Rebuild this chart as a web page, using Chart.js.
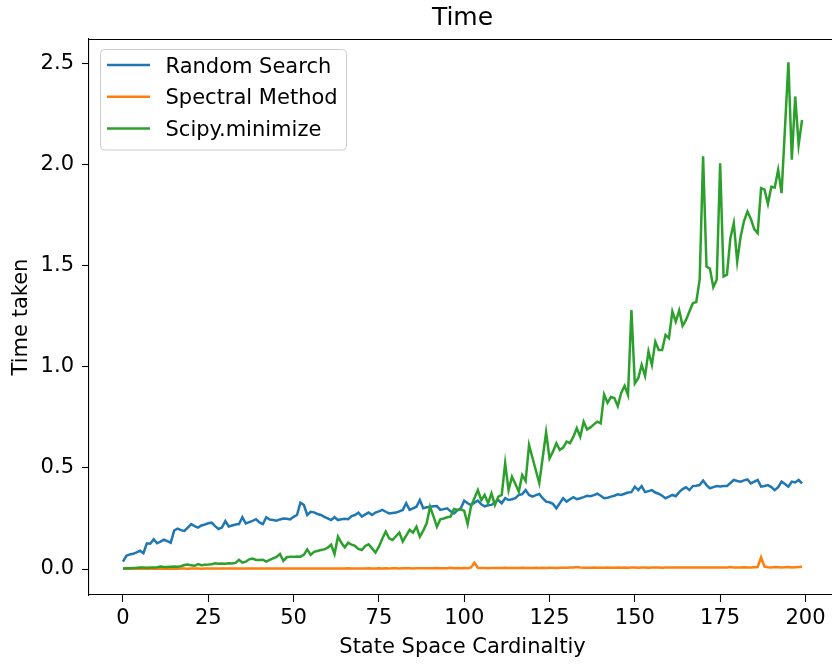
<!DOCTYPE html>
<html>
<head>
<meta charset="utf-8">
<title>Time</title>
<script src="https://cdn.jsdelivr.net/npm/chart.js@4/dist/chart.umd.min.js"></script>
<style>
  html, body { margin: 0; padding: 0; overflow: hidden; background: #ffffff; }
  #wrap { width: 840px; height: 664px; position: relative; }
</style>
</head>
<body>
<div id="wrap"><canvas id="chart"></canvas></div>
<script>
// State space sizes 0..199 (one run per size)
const sizes = Array.from({ length: 200 }, (_, i) => i);

const randomSearch = [
  0.036,0.065,0.072,0.075,0.082,0.090,0.078,0.127,0.125,0.147,
  0.127,0.135,0.145,0.138,0.130,0.190,0.200,0.192,0.188,0.205,
  0.222,0.212,0.205,0.215,0.220,0.226,0.229,0.212,0.198,0.205,
  0.237,0.210,0.215,0.220,0.222,0.256,0.225,0.232,0.238,0.246,
  0.230,0.222,0.256,0.245,0.242,0.239,0.245,0.250,0.248,0.245,
  0.258,0.267,0.328,0.317,0.267,0.283,0.280,0.272,0.267,0.258,
  0.250,0.242,0.256,0.242,0.246,0.248,0.246,0.262,0.267,0.279,
  0.259,0.270,0.279,0.267,0.279,0.285,0.292,0.283,0.275,0.277,
  0.279,0.285,0.292,0.325,0.292,0.300,0.308,0.341,0.300,0.305,
  0.308,0.310,0.311,0.292,0.296,0.300,0.285,0.275,0.290,0.300,
  0.338,0.325,0.316,0.328,0.338,0.320,0.310,0.315,0.317,0.330,
  0.341,0.325,0.350,0.341,0.345,0.350,0.366,0.370,0.390,0.366,
  0.358,0.365,0.371,0.350,0.333,0.330,0.322,0.300,0.325,0.350,
  0.333,0.345,0.355,0.345,0.350,0.355,0.362,0.360,0.365,0.372,
  0.362,0.350,0.352,0.358,0.362,0.369,0.366,0.372,0.378,0.380,
  0.407,0.390,0.410,0.380,0.385,0.390,0.378,0.372,0.362,0.350,
  0.358,0.366,0.360,0.380,0.395,0.404,0.390,0.410,0.412,0.415,
  0.437,0.415,0.399,0.405,0.410,0.408,0.410,0.410,0.425,0.440,
  0.435,0.432,0.438,0.443,0.423,0.432,0.440,0.407,0.410,0.415,
  0.405,0.390,0.405,0.432,0.420,0.407,0.432,0.428,0.440,0.423
];

const spectralMethod = [
  0.001,0.001,0.001,0.001,0.001,0.001,0.001,0.001,0.001,0.001,
  0.001,0.001,0.001,0.001,0.002,0.001,0.001,0.002,0.002,0.001,
  0.002,0.002,0.002,0.001,0.002,0.002,0.002,0.002,0.002,0.002,
  0.002,0.002,0.003,0.002,0.002,0.002,0.002,0.002,0.003,0.002,
  0.002,0.002,0.003,0.002,0.002,0.003,0.002,0.003,0.002,0.003,
  0.002,0.003,0.003,0.003,0.003,0.002,0.003,0.003,0.003,0.002,
  0.003,0.003,0.003,0.003,0.003,0.003,0.004,0.003,0.003,0.003,
  0.003,0.003,0.004,0.003,0.003,0.004,0.003,0.004,0.003,0.004,
  0.004,0.003,0.004,0.004,0.004,0.003,0.004,0.004,0.004,0.004,
  0.004,0.004,0.005,0.004,0.004,0.004,0.006,0.004,0.005,0.004,
  0.005,0.004,0.008,0.031,0.006,0.005,0.005,0.004,0.005,0.005,
  0.005,0.005,0.006,0.005,0.005,0.005,0.005,0.006,0.005,0.005,
  0.005,0.006,0.005,0.006,0.005,0.006,0.006,0.005,0.006,0.006,
  0.006,0.007,0.008,0.010,0.007,0.006,0.006,0.006,0.007,0.006,
  0.006,0.006,0.007,0.006,0.006,0.007,0.006,0.007,0.006,0.007,
  0.007,0.006,0.007,0.007,0.006,0.007,0.007,0.007,0.006,0.007,
  0.007,0.007,0.008,0.007,0.007,0.007,0.008,0.007,0.007,0.008,
  0.007,0.008,0.007,0.008,0.008,0.007,0.008,0.008,0.010,0.008,
  0.008,0.008,0.009,0.008,0.008,0.009,0.010,0.058,0.012,0.009,
  0.008,0.010,0.009,0.008,0.009,0.010,0.008,0.009,0.010,0.011
];

const scipyMinimize = [
  0.003,0.004,0.004,0.005,0.006,0.008,0.007,0.006,0.008,0.007,
  0.009,0.012,0.010,0.010,0.011,0.012,0.011,0.014,0.020,0.022,
  0.018,0.016,0.024,0.019,0.021,0.022,0.024,0.028,0.026,0.027,
  0.026,0.028,0.027,0.030,0.045,0.031,0.036,0.048,0.052,0.045,
  0.044,0.046,0.037,0.045,0.053,0.060,0.074,0.040,0.058,0.061,
  0.060,0.062,0.061,0.070,0.097,0.070,0.085,0.089,0.094,0.097,
  0.105,0.120,0.074,0.160,0.130,0.107,0.130,0.120,0.114,0.099,
  0.094,0.114,0.122,0.102,0.081,0.110,0.150,0.185,0.152,0.144,
  0.162,0.180,0.136,0.165,0.193,0.180,0.209,0.160,0.190,0.226,
  0.308,0.260,0.209,0.246,0.250,0.256,0.259,0.297,0.292,0.295,
  0.287,0.222,0.310,0.350,0.390,0.340,0.366,0.325,0.374,0.317,
  0.358,0.366,0.523,0.390,0.456,0.420,0.382,0.465,0.435,0.613,
  0.550,0.487,0.424,0.550,0.676,0.547,0.580,0.622,0.589,0.600,
  0.630,0.622,0.654,0.696,0.654,0.728,0.690,0.700,0.715,0.728,
  0.720,0.862,0.822,0.850,0.845,0.805,0.870,0.905,0.860,1.280,
  0.918,0.943,1.009,0.955,1.075,1.009,1.124,1.083,1.083,1.157,
  1.141,1.273,1.223,1.278,1.202,1.231,1.273,1.314,1.320,1.430,
  2.040,1.495,1.485,1.393,1.430,2.006,1.446,1.455,1.635,1.710,
  1.520,1.643,1.720,1.767,1.730,1.680,1.660,1.883,1.875,1.805,
  1.890,1.886,1.973,1.858,2.180,2.505,2.023,2.336,2.097,2.220
];

const seriesNames = ['Random Search', 'Spectral Method', 'Scipy.minimize'];
const seriesColors = ['#1f77b4', '#ff7f0e', '#2ca02c'];
const xTicks = [0, 25, 50, 75, 100, 125, 150, 175, 200];
const yTicks = [0.0, 0.5, 1.0, 1.5, 2.0, 2.5];
const titleText = 'Time';
const xLabel = 'State Space Cardinaltiy';
const yLabel = 'Time taken';

const FONT = '"DejaVu Sans", "Liberation Sans", sans-serif';
const TEXT_SIZE = 21;
Chart.defaults.font.family = FONT;
Chart.defaults.color = '#000000';

const toPoints = ys => sizes.map((x, i) => ({ x: x, y: ys[i] }));
const allSeries = [randomSearch, spectralMethod, scipyMinimize];

// Title, axis labels, remaining spines and the boxed legend
const figureDecor = {
  id: 'figureDecor',
  afterDraw(chart) {
    const { ctx, chartArea: a } = chart;
    ctx.save();

    ctx.strokeStyle = '#000000';
    ctx.lineWidth = 1.1;
    ctx.beginPath();
    ctx.moveTo(a.left, a.top + 0.5);
    ctx.lineTo(a.right, a.top + 0.5);
    ctx.lineTo(a.right, a.bottom);
    ctx.stroke();

    ctx.fillStyle = '#000000';
    ctx.textAlign = 'center';
    ctx.textBaseline = 'alphabetic';
    ctx.font = '25px ' + FONT;
    ctx.fillText(titleText, (a.left + a.right) / 2, 25);

    ctx.font = TEXT_SIZE + 'px ' + FONT;
    ctx.fillText(xLabel, (a.left + a.right) / 2, 653);

    ctx.save();
    ctx.translate(27, (a.top + a.bottom) / 2);
    ctx.rotate(-Math.PI / 2);
    ctx.fillText(yLabel, 0, 0);
    ctx.restore();

    // legend box
    const bx = 100.5, by = 49.5, bw = 246, bh = 100.5, r = 4;
    ctx.beginPath();
    ctx.moveTo(bx + r, by);
    ctx.lineTo(bx + bw - r, by);
    ctx.quadraticCurveTo(bx + bw, by, bx + bw, by + r);
    ctx.lineTo(bx + bw, by + bh - r);
    ctx.quadraticCurveTo(bx + bw, by + bh, bx + bw - r, by + bh);
    ctx.lineTo(bx + r, by + bh);
    ctx.quadraticCurveTo(bx, by + bh, bx, by + bh - r);
    ctx.lineTo(bx, by + r);
    ctx.quadraticCurveTo(bx, by, bx + r, by);
    ctx.closePath();
    ctx.fillStyle = 'rgba(255,255,255,0.8)';
    ctx.fill();
    ctx.strokeStyle = '#cccccc';
    ctx.lineWidth = 1;
    ctx.stroke();

    ctx.textAlign = 'left';
    ctx.font = TEXT_SIZE + 'px ' + FONT;
    chart.data.datasets.forEach((ds, i) => {
      const y = 65 + i * 31.7;
      ctx.strokeStyle = ds.borderColor;
      ctx.lineWidth = 2.5;
      ctx.beginPath();
      ctx.moveTo(107, y);
      ctx.lineTo(150, y);
      ctx.stroke();
      ctx.fillStyle = '#000000';
      ctx.fillText(ds.label, 165.5, y + 7.5);
    });

    ctx.restore();
  }
};

new Chart(document.getElementById('chart'), {
  type: 'line',
  data: {
    datasets: seriesNames.map((name, i) => ({
      label: name,
      data: toPoints(allSeries[i]),
      borderColor: seriesColors[i],
      backgroundColor: seriesColors[i],
      borderWidth: 2.5,
      pointRadius: 0,
      tension: 0,
      fill: false,
      order: 3 - i
    }))
  },
  options: {
    responsive: true,
    maintainAspectRatio: false,
    devicePixelRatio: 1,
    animation: false,
    events: [],
    layout: { padding: { top: 39, right: 4, left: 0, bottom: 0 } },
    plugins: {
      legend: { display: false },
      title: { display: false },
      tooltip: { enabled: false }
    },
    scales: {
      x: {
        type: 'linear',
        min: -9.95,
        max: 208.95,
        afterBuildTicks: s => { s.ticks = xTicks.map(v => ({ value: v })); },
        afterFit: s => { s.height = 69; },
        grid: { display: true, drawOnChartArea: false, drawTicks: true, tickLength: 7, tickWidth: 1.1, tickColor: '#000000' },
        border: { display: true, color: '#000000', width: 1.1 },
        ticks: {
          color: '#000000',
          font: { size: TEXT_SIZE, family: FONT },
          padding: 4,
          maxRotation: 0,
          autoSkip: false,
          callback: v => String(v)
        }
      },
      y: {
        type: 'linear',
        min: -0.1285,
        max: 2.620,
        afterBuildTicks: s => { s.ticks = yTicks.map(v => ({ value: v })); },
        afterFit: s => { s.width = 89; },
        grid: { display: true, drawOnChartArea: false, drawTicks: true, tickLength: 7, tickWidth: 1.1, tickColor: '#000000' },
        border: { display: true, color: '#000000', width: 1.1 },
        ticks: {
          color: '#000000',
          font: { size: TEXT_SIZE, family: FONT },
          padding: 8,
          autoSkip: false,
          callback: v => Number(v).toFixed(1)
        }
      }
    }
  },
  plugins: [figureDecor]
});
</script>
</body>
</html>
